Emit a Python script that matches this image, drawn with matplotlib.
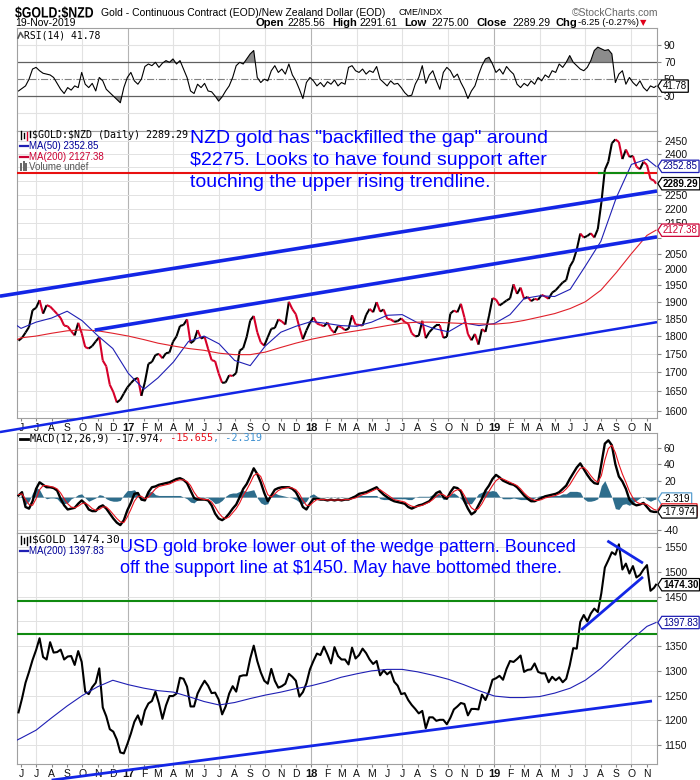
import numpy as np
import pandas as pd
import matplotlib
matplotlib.use("Agg")
import matplotlib.pyplot as plt
import matplotlib.dates as mdates
from matplotlib.collections import LineCollection
from matplotlib.lines import Line2D
from matplotlib.path import Path
from matplotlib.textpath import TextPath
from matplotlib.patches import PathPatch
from matplotlib.font_manager import FontProperties
from matplotlib.transforms import Affine2D

plt.rcParams['font.family'] = ['Liberation Sans', 'DejaVu Sans']
plt.rcParams['text.parse_math'] = False

# ---------------- data (weekly readings) ----------------
week_dates = pd.date_range('2016-05-27', periods=182, freq='7D').append(pd.DatetimeIndex(['2019-11-19']))

nzd_close = [
    1787, 1795, 1810, 1826, 1875, 1882, 1905, 1865, 1890, 1886,
    1875, 1864, 1852, 1830, 1828, 1814, 1802, 1838, 1808, 1769,
    1765, 1772, 1785, 1797, 1732, 1716, 1667, 1648, 1621, 1628,
    1644, 1660, 1671, 1681, 1685, 1638, 1674, 1723, 1728, 1747,
    1750, 1738, 1752, 1754, 1784, 1799, 1829, 1832, 1848, 1780,
    1787, 1817, 1793, 1798, 1764, 1733, 1730, 1697, 1672, 1673,
    1692, 1690, 1698, 1759, 1766, 1798, 1845, 1858, 1811, 1782,
    1773, 1797, 1821, 1823, 1848, 1842, 1833, 1900, 1878, 1863,
    1825, 1791, 1816, 1838, 1854, 1836, 1832, 1828, 1839, 1819,
    1809, 1829, 1825, 1817, 1821, 1860, 1833, 1832, 1830, 1861,
    1879, 1869, 1899, 1871, 1877, 1850, 1848, 1841, 1843, 1851,
    1840, 1836, 1808, 1799, 1801, 1844, 1794, 1811, 1822, 1831,
    1831, 1795, 1798, 1865, 1874, 1869, 1894, 1854, 1806, 1788,
    1806, 1776, 1820, 1812, 1858, 1911, 1907, 1889, 1896, 1904,
    1910, 1953, 1924, 1943, 1909, 1915, 1902, 1909, 1906, 1921,
    1916, 1909, 1928, 1935, 1947, 1959, 1966, 2008, 2027, 2063,
    2116, 2103, 2108, 2117, 2103, 2131, 2221, 2340, 2370, 2440,
    2455, 2445, 2380, 2416, 2388, 2392, 2352, 2342, 2370, 2358,
    2306, 2301, 2289.29]

usd_close = [
    1216, 1244, 1276, 1298, 1322, 1342, 1366, 1328, 1323, 1358,
    1337, 1338, 1343, 1323, 1329, 1330, 1312, 1340, 1318, 1258,
    1253, 1267, 1276, 1305, 1226, 1208, 1182, 1177, 1161, 1135,
    1133, 1152, 1173, 1197, 1210, 1191, 1220, 1234, 1239, 1258,
    1234, 1203, 1230, 1249, 1249, 1254, 1286, 1284, 1268, 1228,
    1228, 1254, 1268, 1280, 1270, 1255, 1256, 1242, 1212, 1228,
    1254, 1269, 1258, 1289, 1291, 1291, 1325, 1351, 1320, 1297,
    1280, 1274, 1304, 1280, 1266, 1269, 1274, 1294, 1288, 1280,
    1248, 1257, 1275, 1303, 1320, 1335, 1332, 1349, 1333, 1315,
    1348, 1330, 1323, 1323, 1313, 1347, 1325, 1332, 1345, 1336,
    1323, 1314, 1320, 1291, 1301, 1293, 1299, 1278, 1270, 1253,
    1255, 1241, 1231, 1223, 1214, 1219, 1184, 1206, 1206, 1199,
    1201, 1201, 1192, 1205, 1222, 1228, 1235, 1233, 1210, 1223,
    1223, 1222, 1252, 1241, 1258, 1282, 1285, 1290, 1282, 1304,
    1320, 1318, 1324, 1331, 1298, 1302, 1303, 1315, 1298, 1295,
    1295, 1277, 1288, 1281, 1287, 1277, 1284, 1311, 1346, 1345,
    1399, 1413, 1400, 1416, 1426, 1419, 1457, 1509, 1524, 1540,
    1535, 1556, 1505, 1517, 1497, 1512, 1489, 1494, 1505, 1514,
    1462, 1468, 1474.30]

rsi = [
    36, 39, 42, 50, 62, 64, 60, 57, 56, 55,
    52, 45, 38, 33, 40, 37, 42, 40, 58, 44,
    40, 45, 36, 52, 48, 38, 34, 30, 26, 22,
    40, 52, 58, 48, 44, 50, 65, 68, 66, 70,
    64, 69, 72, 70, 74, 68, 72, 62, 52, 36,
    33, 44, 40, 45, 36, 35, 30, 24, 29, 36,
    42, 52, 66, 70, 68, 74, 80, 84, 52, 46,
    50, 48, 60, 66, 58, 62, 56, 68, 55, 48,
    38, 27, 46, 52, 48, 42, 46, 41, 47, 44,
    49, 42, 46, 44, 64, 66, 60, 58, 62, 56,
    60, 58, 65, 50, 46, 42, 48, 44, 45, 40,
    34, 30, 31, 44, 52, 66, 45, 55, 60, 48,
    38, 58, 64, 60, 52, 56, 46, 38, 27, 36,
    42, 55, 66, 74, 76, 68, 58, 62, 56, 65,
    60, 56, 44, 40, 45, 42, 48, 44, 52, 48,
    55, 52, 60, 58, 68, 64, 70, 78, 70, 66,
    62, 60, 64, 72, 84, 88, 86, 84, 85, 80,
    46, 56, 60, 44, 52, 46, 42, 48, 40, 36,
    42, 40, 41.78]

macd = [
    2, 6, -12, -14, -5, 10, 18, 15, 12, 12,
    11, 8, -2, -10, -15, -14, -13, -8, -4, -8,
    -15, -17, -17, -12, -10, -14, -20, -26, -31, -34,
    -28, -16, -7, 4, 5, -3, -4, 6, 12, 13,
    15, 16, 17, 18, 20, 22, 23, 21, 17, 8,
    -1, -3, -3, -3, -4, -10, -20, -26, -28, -25,
    -20, -14, -9, 0, 10, 16, 25, 35, 28, 18,
    5, -5, 2, 9, 11, 12, 12, 12, 10, 6,
    -2, -12, -15, -8, -2, -2, -3, -3, -4, -3,
    -4, -3, -4, -3, -3, -1, 1, 4, 5, 6,
    8, 10, 12, 7, 3, 0, -3, -5, -6, -7,
    -8, -12, -14, -12, -10, -9, -7, -5, 0, 5,
    7, 0, -2, 6, 12, 11, 7, -5, -14, -21,
    -18, -10, -2, 8, 14, 22, 27, 24, 20, 18,
    16, 15, 12, 7, 2, -2, -5, -5, -3, -1,
    1, 2, 3, 4, 6, 10, 14, 22, 29, 36,
    41, 34, 27, 21, 17, 16, 40, 65, 69, 63,
    40, 25, 19, 10, -3, -8, -10, -9, -7, -12,
    -17, -18, -17.974]

macd_signal = [
    3, 4, -3, -9, -10, -2, 9, 14, 14, 13,
    12, 10, 5, -2, -8, -12, -13, -11, -8, -7,
    -10, -14, -16, -15, -12, -12, -16, -21, -26, -30,
    -31, -24, -15, -5, 1, 1, -2, 0, 5, 10,
    13, 14, 15, 16, 18, 20, 21, 21, 19, 14,
    6, 0, -2, -3, -3, -6, -12, -19, -24, -26,
    -24, -19, -14, -7, 2, 9, 17, 26, 29, 25,
    14, 3, 0, 4, 8, 10, 11, 12, 11, 9,
    4, -4, -10, -10, -6, -3, -3, -3, -3.5, -3.5,
    -3.5, -3.5, -3.5, -3, -3, -2, -1, 1, 3, 4,
    6, 8, 10, 9, 6, 3, 0, -3, -4, -5,
    -6, -9, -11, -12, -11, -10, -8, -6, -3, 1,
    4, 3, 0, 2, 7, 9, 9, 2, -6, -13,
    -16, -14, -8, 0, 7, 14, 20, 23, 22, 20,
    18, 16, 14, 10, 5, 1, -2, -4, -4, -3,
    -1, 0, 1, 2, 4, 6, 10, 15, 22, 29,
    35, 36, 32, 26, 21, 18, 26, 45, 59, 63,
    54, 40, 28, 18, 7, -1, -6, -8, -8, -9,
    -12, -15, -15.655]

# moving averages read at month starts
ma_dates = (pd.DatetimeIndex(['2016-05-24'])
            .append(pd.date_range('2016-06-01', '2019-11-01', freq='MS'))
            .append(pd.DatetimeIndex(['2019-11-19'])))
nzd_ma50 = [1830, 1822, 1840, 1852, 1872, 1844, 1801, 1765,
            1697, 1655, 1685, 1728, 1785, 1800, 1778, 1732, 1718, 1772, 1811, 1828,
            1842, 1836, 1830, 1828, 1840, 1860, 1862, 1838, 1822, 1812, 1838, 1830,
            1836, 1862, 1910, 1918, 1916, 1938, 2010, 2090, 2240, 2360, 2380,
            2352.85]
nzd_ma200 = [1790, 1795, 1800, 1808, 1815, 1818, 1815, 1808,
             1800, 1790, 1780, 1772, 1765, 1760, 1752, 1748, 1748, 1755, 1768, 1780,
             1791, 1800, 1808, 1815, 1822, 1830, 1837, 1840, 1840, 1838, 1836, 1835,
             1834, 1838, 1845, 1855, 1865, 1880, 1900, 1935, 1990, 2050, 2110,
             2127.38]
usd_ma200 = [1160, 1164, 1180, 1205, 1229, 1250, 1268, 1281,
             1272, 1265, 1260, 1257, 1248, 1238, 1231, 1236, 1244, 1251, 1257, 1264,
             1270, 1278, 1287, 1294, 1300, 1303, 1303, 1298, 1291, 1283, 1272, 1260,
             1249, 1246, 1246, 1248, 1255, 1265, 1281, 1305, 1335, 1363, 1390,
             1397.83]

# drawn trendlines / levels: (dates, prices)
nzd_upper_trend = (['2016-04-20', '2019-11-21'], [1917, 2263])
nzd_mid_trend = (['2016-10-26', '2019-11-21'], [1817, 2105])
nzd_low_trend = (['2016-04-20', '2019-11-21'], [1547, 1840])
nzd_gap_level = 2328
nzd_gap_green = (['2019-07-29', '2019-10-24'], [2328, 2328])
usd_levels = [1442, 1375]
usd_support = (['2019-06-23', '2019-10-24'], [1383, 1490])
usd_wedge_top = (['2019-08-14', '2019-10-24'], [1563, 1518])
usd_long_trend = (['2016-08-01', '2019-11-11'], [1079, 1239])

nzd_ticks = list(range(1600, 2451, 50))
usd_ticks = list(range(1150, 1551, 50))
macd_ticks = [-40, -20, 0, 20, 40, 60]
rsi_ticks = [30, 50, 70, 90]

months = pd.date_range('2016-06-01', '2019-11-01', freq='MS')
month_labels = [f"{d.year % 100}" if d.month == 1 else d.strftime('%b')[0] for d in months]
quarters = [d for d in months if d.month in (1, 4, 7, 10)]

# ---------------- figure ----------------
W, H = 700, 780
fig = plt.figure(figsize=(W / 100, H / 100), dpi=100)
fig.patch.set_facecolor('white')


def fx(px):
    return px / W


def fy(py):
    return 1 - py / H


def make_ax(top, bottom):
    return fig.add_axes([fx(17), fy(bottom), fx(640), (bottom - top) / H])


ax_rsi = make_ax(28, 131)
ax_main = make_ax(131, 418)
ax_macd = make_ax(433, 533)
ax_usd = make_ax(533, 764)

x = mdates.date2num(week_dates)
xm = mdates.date2num(ma_dates)
x_lo = mdates.date2num(pd.Timestamp('2016-05-24'))
x_hi = mdates.date2num(pd.Timestamp('2019-11-21'))


def style_panel(ax, labels):
    ax.set_xlim(x_lo, x_hi)
    ax.set_xticks(mdates.date2num(months))
    if labels:
        ax.set_xticklabels(month_labels)
        ax.tick_params(axis='x', labelsize=7.5, length=2.5, pad=0.8, color='#888888', labelcolor='#111111')
        for lab, d in zip(ax.get_xticklabels(), months):
            if d.month == 1:
                lab.set_fontweight('bold')
                lab.set_fontsize(8)
    else:
        ax.tick_params(axis='x', length=0, labelbottom=False)
    for q in quarters:
        ax.axvline(mdates.date2num(q), color='#b4b4b4' if q.month == 1 else '#e2e2e2', lw=0.8, zorder=0)
    ax.yaxis.tick_right()
    ax.tick_params(axis='y', labelsize=7.5, length=3, pad=2, color='#888888', labelcolor='#111111')
    for s in ax.spines.values():
        s.set_color('#a0a0a0')
        s.set_linewidth(0.8)


def set_right_ticks(ax, ticks, hidden=()):
    ax.set_yticks(ticks)
    ax.set_yticklabels(['' if t in hidden else str(t) for t in ticks])
    ax.yaxis.set_minor_locator(matplotlib.ticker.NullLocator())


def tag_shape(x0, y0, width, height, mutation_size):
    pad = 0.12 * mutation_size
    x0, y0 = x0 - pad, y0 - pad
    w, h = width + 2 * pad, height + 2 * pad
    tip = 0.32 * h
    return Path([(x0 - tip, y0 + h / 2), (x0, y0 + h), (x0 + w, y0 + h),
                 (x0 + w, y0), (x0, y0), (x0 - tip, y0 + h / 2)], closed=True)


def tag(ax, value, text, edge, color='black', bold=False):
    ax.annotate(text, xy=(1, value), xycoords=('axes fraction', 'data'),
                xytext=(6, 0), textcoords='offset pixels', ha='left', va='center',
                fontsize=7, color=color, fontweight='bold' if bold else 'normal',
                bbox=dict(boxstyle=tag_shape, fc='white', ec=edge, lw=0.9),
                annotation_clip=False, zorder=10)


def fig_line(xs, ys, **kw):
    fig.add_artist(Line2D([fx(v) for v in xs], [fy(v) for v in ys], transform=fig.transFigure, **kw))


# ---- RSI panel
style_panel(ax_rsi, False)
rsi_a = np.array(rsi)
ax_rsi.set_ylim(-11.5, 110.7)
set_right_ticks(ax_rsi, rsi_ticks)
for lvl in (10, 90):
    ax_rsi.axhline(lvl, color='#e2e2e2', lw=0.8, zorder=0)
ax_rsi.axhline(70, color='#606060', lw=0.9)
ax_rsi.axhline(30, color='#606060', lw=0.9)
ax_rsi.axhline(50, color='#808080', lw=0.8, ls='-.')
ax_rsi.fill_between(x, rsi_a, 70, where=rsi_a > 70, interpolate=True, color='#8c8c8c', lw=0)
ax_rsi.fill_between(x, rsi_a, 30, where=rsi_a < 30, interpolate=True, color='#8c8c8c', lw=0)
ax_rsi.plot(x, rsi_a, color='black', lw=0.8)
tag(ax_rsi, rsi[-1], f"{rsi[-1]:.2f}", 'black')

# ---- main NZD panel
style_panel(ax_main, True)
ax_main.set_yscale('log')
ax_main.set_ylim(1581.7, 2487.8)
set_right_ticks(ax_main, nzd_ticks, hidden=(2350, 2100))
ax_main.grid(axis='y', color='#e2e2e2', lw=0.7)
ax_main.set_axisbelow(True)
pts = np.column_stack([x, nzd_close])
segs = np.stack([pts[:-1], pts[1:]], axis=1)
cols = ['black' if b >= a else '#d6002a' for a, b in zip(nzd_close[:-1], nzd_close[1:])]
ax_main.add_collection(LineCollection(segs, colors=cols, linewidths=1.5, zorder=3))
ax_main.plot(xm, nzd_ma50, color='#1f1fb4', lw=0.8, zorder=4)
ax_main.plot(xm, nzd_ma200, color='#e0202a', lw=0.8, zorder=4)
ax_main.axhline(nzd_gap_level, color='#e81010', lw=1.5, zorder=5)
ax_main.plot(mdates.date2num(pd.to_datetime(nzd_gap_green[0])), nzd_gap_green[1], color='#108a10', lw=1.5, zorder=6)
for dts, vals, lw in (nzd_upper_trend + (2.6,), nzd_mid_trend + (2.6,), nzd_low_trend + (1.8,)):
    ax_main.plot(mdates.date2num(pd.to_datetime(dts)), vals, color='#1326e6', lw=lw, zorder=6,
                 clip_on=False, solid_capstyle='butt')
tag(ax_main, nzd_ma50[-1], f"{nzd_ma50[-1]:.2f}", '#1f1fb4', color='#00008b')
tag(ax_main, nzd_ma200[-1], f"{nzd_ma200[-1]:.2f}", '#cc0033', color='#cc0033')
tag(ax_main, nzd_close[-1], f"{nzd_close[-1]:.2f}", 'black', bold=True)

# ---- MACD panel
style_panel(ax_macd, False)
macd_a = np.array(macd)
sig_a = np.array(macd_signal)
hist = macd_a - sig_a
ax_macd.set_ylim(-43.6, 77.9)
set_right_ticks(ax_macd, macd_ticks, hidden=(0, -20))
ax_macd.grid(axis='y', color='#e2e2e2', lw=0.7)
ax_macd.set_axisbelow(True)
ax_macd.fill_between(x, hist, 0, color='#2e6d8c', lw=0, zorder=2)
ax_macd.plot(x, macd_a, color='black', lw=1.7, zorder=3)
ax_macd.plot(x, sig_a, color='#e8141e', lw=0.8, zorder=4)
tag(ax_macd, hist[-1], f"{hist[-1]:.3f}", '#5a9fd0')
tag(ax_macd, macd_signal[-1], f"{macd_signal[-1]:.3f}", '#e8141e')
tag(ax_macd, macd[-1], f"{macd[-1]:.3f}", 'black')

# ---- USD gold panel
style_panel(ax_usd, True)
ax_usd.set_ylim(1111.6, 1578.9)
set_right_ticks(ax_usd, usd_ticks, hidden=(1400,))
ax_usd.grid(axis='y', color='#e2e2e2', lw=0.7)
ax_usd.set_axisbelow(True)
ax_usd.plot(x, usd_close, color='black', lw=1.5, zorder=3)
ax_usd.plot(xm, usd_ma200, color='#1f1fb4', lw=0.8, zorder=4)
for lvl in usd_levels:
    ax_usd.axhline(lvl, color='#108a10', lw=1.5, zorder=5)
for dts, vals in (usd_support, usd_wedge_top, usd_long_trend):
    ax_usd.plot(mdates.date2num(pd.to_datetime(dts)), vals, color='#1326e6', lw=2.0, zorder=6,
                clip_on=False, solid_capstyle='butt')
tag(ax_usd, usd_ma200[-1], f"{usd_ma200[-1]:.2f}", '#1f1fb4', color='#00008b')
tag(ax_usd, usd_close[-1], f"{usd_close[-1]:.2f}", 'black', bold=True)

# ---------------- header ----------------
title_path = TextPath((0, 0), '$GOLD:$NZD', size=15,
                      prop=FontProperties(family='Liberation Sans', weight='bold'))
fig.add_artist(PathPatch(title_path, color='black', lw=0,
                         transform=Affine2D().scale(0.82, 1.0).translate(15, H - 17.5)))
fig.text(fx(101), fy(12.5), 'Gold - Continuous Contract (EOD)/New Zealand Dollar (EOD)', fontsize=7.5, va='center')
fig.text(fx(398), fy(12.5), 'CME/INDX', fontsize=6.5, va='center')
fig.text(fx(658), fy(12.5), '\u00a9StockCharts.com', fontsize=7.5, color='#666666', ha='right', va='center')
fig.text(fx(15), fy(22.5), '19-Nov-2019', fontsize=7.5, va='center')
quote_runs = [('Open', 255, True, 8), ('2285.56', 287, False, 7.5), ('High', 332, True, 8),
              ('2291.61', 359, False, 7.5), ('Low', 404, True, 8), ('2275.00', 431.5, False, 7.5),
              ('Close', 477, True, 8), ('2289.29', 512, False, 7.5), ('Chg', 555, True, 8),
              ('-6.25 (-0.27%)', 578, False, 6.8)]
for txt, px, bold, fs in quote_runs:
    fig.text(fx(px), fy(22.5), txt, fontsize=fs, fontweight='bold' if bold else 'normal', va='center')
fig.text(fx(640), fy(22.5), '\u25bc', fontsize=6, color='#e0001a', va='center', family='DejaVu Sans')

# ---------------- legends ----------------
mono = 'DejaVu Sans Mono'
fig_line([18, 20.5, 23], [38, 32.5, 37], color='#555555', lw=1.2)
fig.text(fx(23.5), fy(35), 'RSI(14) 41.78', family=mono, fontsize=7, va='center')

for bx, b0, b1, c in ((21, 131, 139, 'black'), (24, 133, 138, 'black'), (27, 132, 140, '#d6002a'), (30, 131, 137, 'black')):
    fig_line([bx, bx], [b0, b1], color=c, lw=1.0)
fig.text(fx(32.5), fy(135.5), '$GOLD:$NZD (Daily) 2289.29', family=mono, fontsize=7.2, va='center')
fig_line([20, 28], [146, 146], color='#1f1fb4', lw=1.6)
fig.text(fx(29), fy(146), 'MA(50) 2352.85', fontsize=7, color='#000099', va='center')
fig_line([20, 28], [156.5, 156.5], color='#cc0033', lw=1.6)
fig.text(fx(29), fy(156.5), 'MA(200) 2127.38', fontsize=7, color='#cc0033', va='center')
for bx, b0 in ((21, 164), (23.5, 162), (26, 163.5)):
    fig_line([bx, bx], [b0, 170], color='#666666', lw=1.4)
fig.text(fx(29), fy(167), 'Volume undef', fontsize=7, color='#555555', va='center')

fig_line([20, 28], [438.5, 438.5], color='black', lw=2.0)
cw = 0.602 * 7.3 * 100 / 72
macd_runs = [('MACD(12,26,9) -17.974', 'black'), (', -15.655', '#e8141e'), (', -2.319', '#3c8fd0')]
cx = 30
for txt, c in macd_runs:
    fig.text(fx(cx), fy(438.5), txt, family=mono, fontsize=7.3, color=c, va='center')
    cx += len(txt) * cw

for bx, b0, b1 in ((21, 536, 544), (24, 538, 543), (27, 537, 545), (30, 536, 542)):
    fig_line([bx, bx], [b0, b1], color='black', lw=1.0)
fig.text(fx(32), fy(540), '$GOLD 1474.30', family=mono, fontsize=8, va='center')
fig_line([20, 28], [551, 551], color='#1f1fb4', lw=1.6)
fig.text(fx(29), fy(551), 'MA(200) 1397.83', fontsize=7, color='#000099', va='center')

# ---------------- annotations ----------------
fig.text(fx(190), fy(130),
         'NZD gold has "backfilled the gap" around\n$2275. Looks to have found support after\n'
         'touching the upper rising trendline.',
         fontsize=14, color='#0000ff', va='top', linespacing=1.38, zorder=20)
fig.text(fx(120), fy(539),
         'USD gold broke lower out of the wedge pattern. Bounced\noff the support line at $1450. May have bottomed there.',
         fontsize=13, color='#0000ff', va='top', linespacing=1.28, zorder=20)

fig.savefig('out.png', dpi=100)
